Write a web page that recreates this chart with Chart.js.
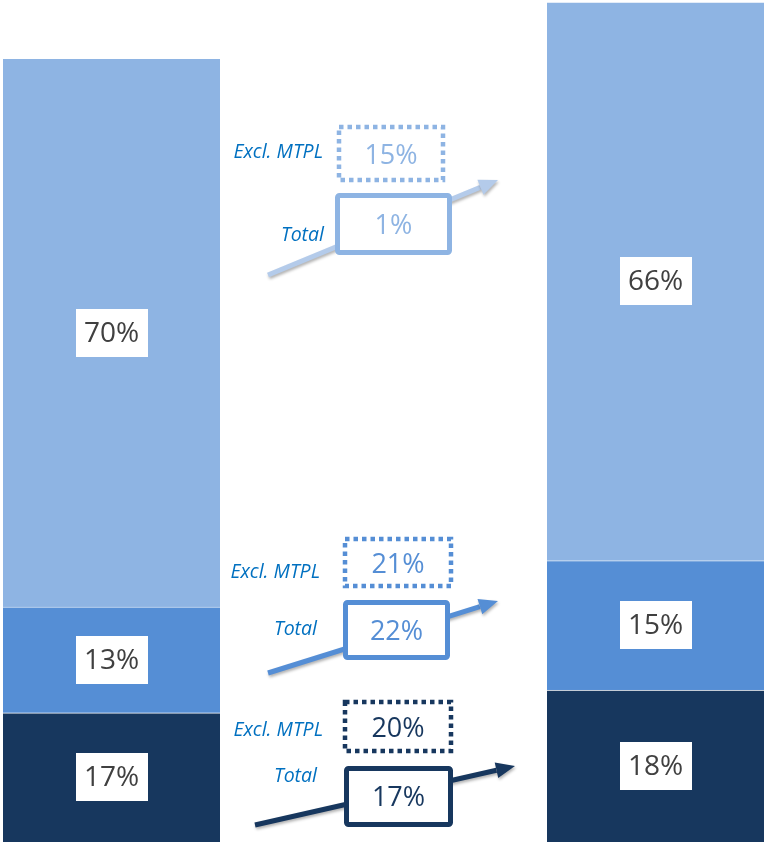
<!DOCTYPE html>
<html>
<head>
<meta charset="utf-8">
<script src="https://cdn.jsdelivr.net/npm/chart.js@4/dist/chart.umd.min.js"></script>
<style>
  html, body { margin: 0; padding: 0; background: #fff; }
  #wrap { width: 765px; height: 843px; position: relative; }
</style>
</head>
<body>
<div id="wrap"><canvas id="chart"></canvas></div>
<script>
// #### Data
const categories = ['Before', 'After'];
const darkValues = [16.5, 19.4];
const mediumValues = [13.5, 16.5];
const lightValues = [70.0, 71.3];
const darkLabels = ['17%', '18%'];
const mediumLabels = ['13%', '15%'];
const lightLabels = ['70%', '66%'];

// growth annotations, top (light) to bottom (dark)
const growthExclMtpl = ['15%', '21%', '20%'];
const growthTotal = ['1%', '22%', '17%'];

// #### Styles
const colors = {
    light: '#8EB4E3',
    medium: '#558ED5',
    dark: '#17375E',
    label: '#404040',
    note: '#0070C0'
};

// layout of the growth boxes and arrows in the gap between the bars
const growthLayout = [
    { color: colors.light, arrowColor: '#B4CBEA',
      excl: { x: 337, y: 125, w: 108, h: 57 }, total: { x: 335, y: 193, w: 117, h: 62 },
      arrow: [268, 275, 498, 180], exclText: [323, 152], totalText: [324, 235] },
    { color: colors.medium, arrowColor: colors.medium,
      excl: { x: 343, y: 537, w: 110, h: 51 }, total: { x: 343, y: 600, w: 107, h: 60 },
      arrow: [268, 673, 498, 601], exclText: [320, 572], totalText: [317, 629] },
    { color: colors.dark, arrowColor: colors.dark,
      excl: { x: 343, y: 700, w: 110, h: 53 }, total: { x: 344, y: 766, w: 109, h: 61 },
      arrow: [255, 825, 515, 766], exclText: [323, 730], totalText: [317, 776] }
];

const stackLabels = [darkLabels, mediumLabels, lightLabels];

// #### Plugins
const segmentLabels = {
    id: 'segmentLabels',
    afterDatasetsDraw(chart) {
        const ctx = chart.ctx;
        ctx.save();
        ctx.font = '28px "Open Sans"';
        ctx.textAlign = 'center';
        ctx.textBaseline = 'middle';
        chart.data.datasets.forEach((ds, di) => {
            chart.getDatasetMeta(di).data.forEach((bar, i) => {
                const text = stackLabels[di][i];
                const cy = (bar.y + bar.base) / 2;
                const w = 72, h = 48;
                ctx.fillStyle = '#fff';
                ctx.fillRect(Math.round(bar.x - w / 2), Math.round(cy - h / 2), w, h);
                ctx.fillStyle = colors.label;
                ctx.fillText(text, bar.x, cy + 1);
            });
        });
        ctx.restore();
    }
};

function drawArrow(ctx, a, color) {
    const [x1, y1, x2, y2] = a;
    const ang = Math.atan2(y2 - y1, x2 - x1);
    const head = 19, half = 8;
    const bx = x2 - head * Math.cos(ang), by = y2 - head * Math.sin(ang);
    ctx.save();
    ctx.shadowColor = 'rgba(0,0,0,0.3)';
    ctx.shadowBlur = 3;
    ctx.shadowOffsetX = 1;
    ctx.shadowOffsetY = 2;
    ctx.strokeStyle = color;
    ctx.fillStyle = color;
    ctx.lineWidth = 5;
    ctx.beginPath();
    ctx.moveTo(x1, y1);
    ctx.lineTo(bx, by);
    ctx.stroke();
    ctx.beginPath();
    ctx.moveTo(x2, y2);
    ctx.lineTo(bx + half * Math.sin(ang), by - half * Math.cos(ang));
    ctx.lineTo(bx - half * Math.sin(ang), by + half * Math.cos(ang));
    ctx.closePath();
    ctx.fill();
    ctx.restore();
}

const growthNotes = {
    id: 'growthNotes',
    afterDraw(chart) {
        const ctx = chart.ctx;
        growthLayout.forEach((g, i) => {
            drawArrow(ctx, g.arrow, g.arrowColor);

            ctx.save();
            // dotted box: excl. MTPL
            ctx.strokeStyle = g.color;
            ctx.lineWidth = 4.5;
            ctx.setLineDash([4.5, 4]);
            ctx.strokeRect(g.excl.x + 2, g.excl.y + 2, g.excl.w - 4, g.excl.h - 4);
            ctx.setLineDash([]);

            // solid box: total
            ctx.fillStyle = '#fff';
            ctx.lineWidth = 5;
            ctx.beginPath();
            ctx.roundRect(g.total.x + 2.5, g.total.y + 2.5, g.total.w - 5, g.total.h - 5, 2);
            ctx.fill();
            ctx.stroke();

            ctx.font = '27px "Open Sans"';
            ctx.textAlign = 'center';
            ctx.textBaseline = 'middle';
            ctx.fillStyle = g.color;
            ctx.fillText(growthExclMtpl[i], g.excl.x + g.excl.w / 2, g.excl.y + g.excl.h / 2 + 3);
            ctx.fillText(growthTotal[i], g.total.x + g.total.w / 2, g.total.y + g.total.h / 2 + 2);

            ctx.font = 'italic 19.5px "Open Sans"';
            ctx.textAlign = 'right';
            ctx.fillStyle = colors.note;
            ctx.fillText('Excl. MTPL', g.exclText[0], g.exclText[1]);
            ctx.fillText('Total', g.totalText[0], g.totalText[1]);
            ctx.restore();
        });
    }
};

// #### Chart
const yMax = lightValues[1] + mediumValues[1] + darkValues[1];

new Chart(document.getElementById('chart').getContext('2d'), {
    type: 'bar',
    data: {
        labels: categories,
        datasets: [
            { label: 'Dark', data: darkValues, backgroundColor: colors.dark },
            { label: 'Medium', data: mediumValues, backgroundColor: colors.medium },
            { label: 'Light', data: lightValues, backgroundColor: colors.light }
        ].map(ds => Object.assign(ds, {
            barThickness: 217,
            borderWidth: { top: 1 },
            borderColor: 'rgba(255,255,255,0.25)',
            borderSkipped: false,
            clip: false
        }))
    },
    options: {
        responsive: true,
        maintainAspectRatio: false,
        animation: false,
        layout: { padding: { left: 111.5, right: 109.5, top: 2, bottom: 1 } },
        scales: {
            x: { stacked: true, offset: false, display: false, grid: { display: false } },
            y: { stacked: true, min: 0, max: yMax, display: false, grid: { display: false } }
        },
        plugins: {
            legend: { display: false },
            tooltip: { enabled: false }
        }
    },
    plugins: [segmentLabels, growthNotes]
});
</script>
</body>
</html>
